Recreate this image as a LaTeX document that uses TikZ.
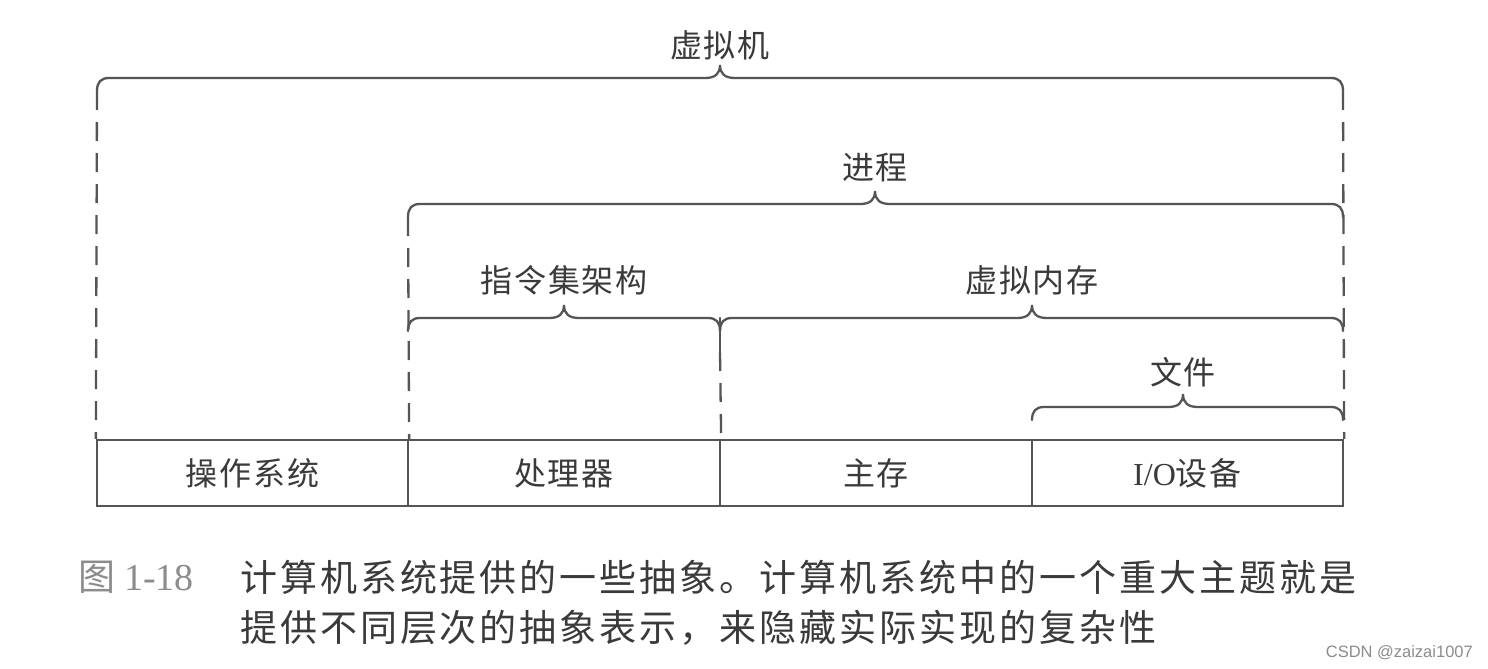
\documentclass[tikz,border=0pt]{standalone}
\usepackage{fontspec}
\setmainfont{Liberation Serif}
\newfontfamily\cjk{Noto Sans CJK SC}
\newfontfamily\wmfont{Liberation Sans}
\definecolor{lc}{HTML}{555555}
\definecolor{tc}{HTML}{3A3A3A}
\definecolor{gc}{HTML}{8C8C8C}
\newcommand\mybrace[4]{% xa, xb, xm, y
  \draw[bline] (#1,#4+13) .. controls (#1,#4+4) and (#1+4,#4) .. (#1+12,#4)
    -- (#3-15,#4) .. controls (#3-5,#4) and (#3,#4-4) .. (#3,#4-13)
    .. controls (#3,#4-4) and (#3+5,#4) .. (#3+15,#4)
    -- (#2-12,#4) .. controls (#2-4,#4) and (#2,#4+4) .. (#2,#4+13);}
\begin{document}
\begin{tikzpicture}[x=1pt,y=-1pt,
  bline/.style={draw=lc, line width=2.3pt, line cap=round},
  dashln/.style={draw=lc, line width=2.3pt, dash pattern=on 19pt off 12pt},
  lbl/.style={font=\cjk\fontsize{32}{32}\selectfont\addfontfeature{LetterSpace=6}, text=tc, inner sep=0pt},
  cell/.style={draw=lc, line width=2.3pt, minimum height=66pt, inner sep=0pt,
    font=\cjk\fontsize{32}{32}\selectfont\addfontfeature{LetterSpace=6}, text=tc},
  captext/.style={font=\cjk\fontsize{37}{37}\selectfont\addfontfeature{LetterSpace=8}, text=tc, inner sep=0pt, anchor=west}]
\useasboundingbox[fill=white] (0,0) rectangle (1488,669);

% bottom row of boxes
\node[cell, minimum width=311pt] (os)  at (252.5,473) {操作系统};
\node[cell, minimum width=312pt] (cpu) at (564,473) {处理器};
\node[cell, minimum width=312pt] (mem) at (876,473) {主存};
\node[cell, minimum width=311pt] (io)  at (1187.5,473) {{\rmfamily I/O}设备};

% labels
\node[lbl] (vm)   at (720,45)  {虚拟机};
\node[lbl] (proc) at (875,168) {进程};
\node[lbl] (isa)  at (564,280) {指令集架构};
\node[lbl] (vmem) at (1032,280) {虚拟内存};
\node[lbl] (file) at (1183,372) {文件};

% braces
\mybrace{97}{1343}{720}{78}
\mybrace{408}{1343}{875}{204}
\mybrace{408}{720}{564}{318}
\mybrace{720}{1343}{1032}{318}
\mybrace{1032}{1343}{1183}{407}

% dashed guide lines
\coordinate (d1) at (97,91);
\coordinate (d2) at (1343,91);
\coordinate (d3) at (408,217);
\coordinate (d4) at (720,352);
\draw[dashln] (d1) -- (os.north west);
\draw[dashln] (d2) -- (io.north east);
\draw[dashln] (d3) -- (os.north east);
\draw[bline] (720,318) -- (d4);
\draw[dashln] (d4) -- (cpu.north east);

% caption
\node[anchor=west, inner sep=0pt, text=gc] (capnum) at (78,577)
  {{\cjk\fontsize{37}{37}\selectfont 图}\hspace{9pt}{\fontsize{38}{38}\selectfont 1-18}};
\node[captext] (cap1) at (240,577) {计算机系统提供的一些抽象。计算机系统中的一个重大主题就是};
\node[captext] (cap2) at (240,628) {提供不同层次的抽象表示，来隐藏实际实现的复杂性};

% watermark
\node[anchor=east, inner sep=0pt, text=gc, font=\wmfont\fontsize{16.5}{16.5}\selectfont] (wm) at (1473,653) {CSDN @zaizai1007};
\end{tikzpicture}
\end{document}
